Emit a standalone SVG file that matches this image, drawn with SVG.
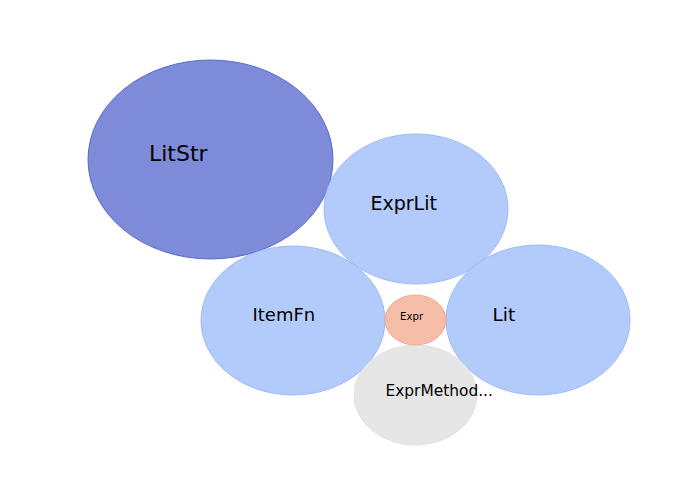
<svg xmlns="http://www.w3.org/2000/svg" width="700" height="500" viewBox="0 0 700 500">
<style>
  .lbl { font-family: "DejaVu Sans", "Liberation Sans", sans-serif; fill: #000; }
  .dark { fill: #7e8bd9; stroke: #5d69cd; stroke-width: 1; }
  .blue { fill: #b3cbfb; stroke: #9ebbf8; stroke-width: 1; }
  .expr { fill: #f6bda8; stroke: #f2aa90; stroke-width: 1; }
  .grey { fill: #e6e6e6; stroke: #e2e2e2; stroke-width: 1; }
</style>
<rect width="700" height="500" fill="#ffffff"/>
<g id="connectors"></g>
<g id="node-LitStr">
  <ellipse class="dark" cx="210.5" cy="159.5" rx="122.5" ry="99.5"/>
  <text class="lbl" x="149" y="161" font-size="22">LitStr</text>
</g>
<g id="node-ExprLit">
  <ellipse class="blue" cx="416" cy="209" rx="92" ry="75"/>
  <text class="lbl" x="370.5" y="209.5" font-size="19">ExprLit</text>
</g>
<g id="node-ItemFn">
  <ellipse class="blue" cx="293" cy="320.5" rx="92" ry="74.5"/>
  <text class="lbl" x="252.5" y="320.5" font-size="18">ItemFn</text>
</g>
<g id="node-Lit">
  <ellipse class="blue" cx="538" cy="320" rx="92" ry="75"/>
  <text class="lbl" x="492.5" y="320.5" font-size="18.5">Lit</text>
</g>
<g id="node-ExprMethod">
  <ellipse class="grey" cx="415.5" cy="395" rx="61.5" ry="50"/>
  <text class="lbl" x="385.5" y="396" font-size="15.4">ExprMethod...</text>
</g>
<g id="node-Expr">
  <ellipse class="expr" cx="415.5" cy="320" rx="30.5" ry="25"/>
  <text class="lbl" x="400" y="320" font-size="10.2">Expr</text>
</g>
</svg>
